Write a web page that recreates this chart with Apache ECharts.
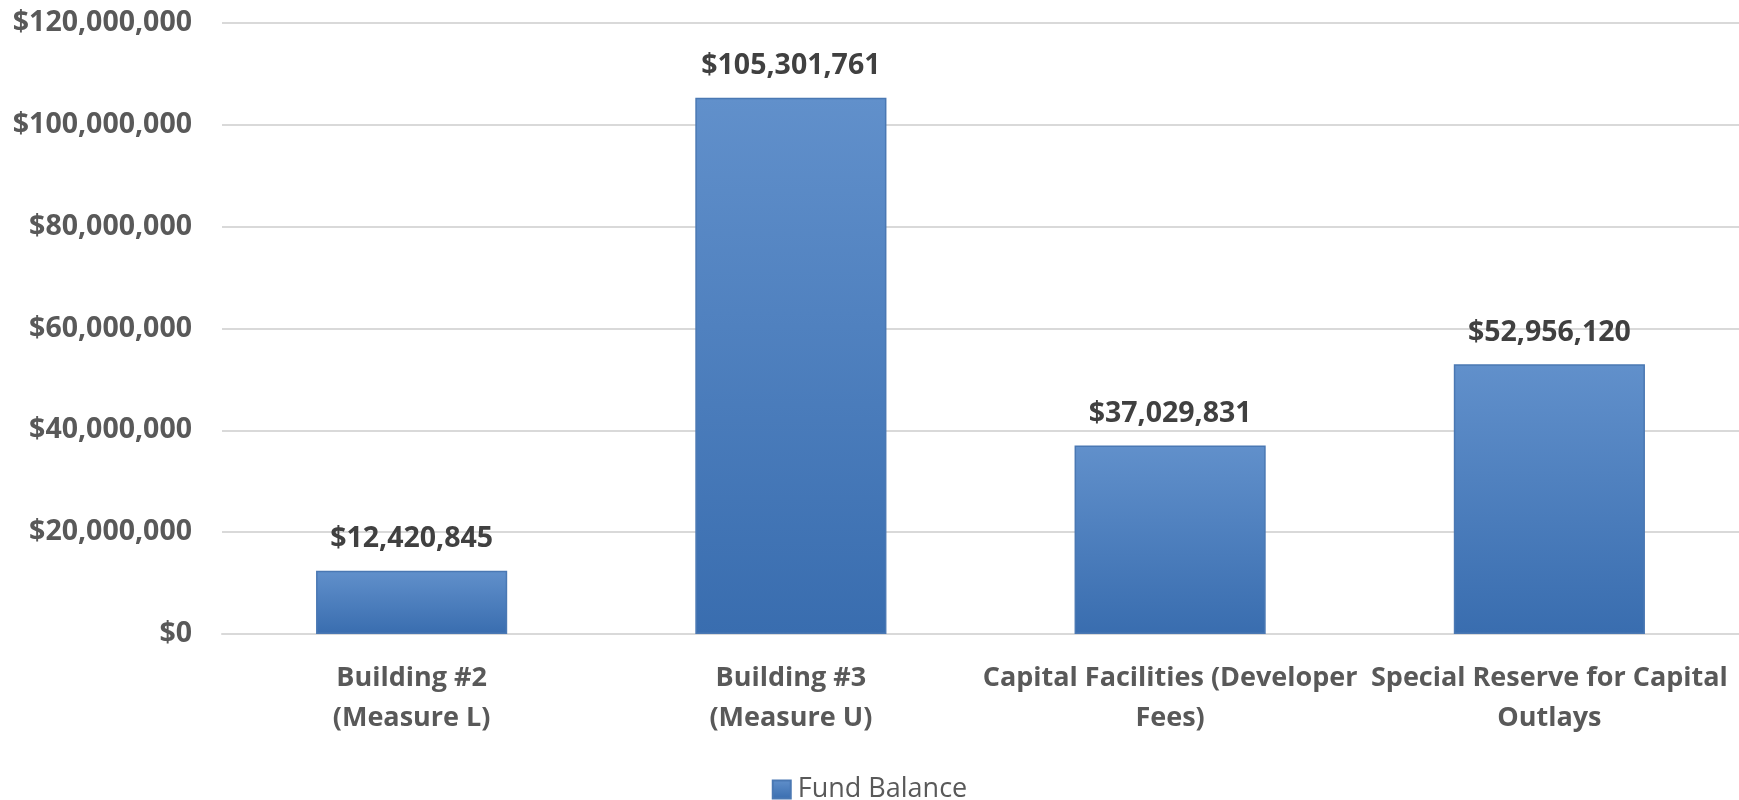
<!DOCTYPE html>
<html>
<head>
<meta charset="utf-8">
<script src="https://cdn.jsdelivr.net/npm/echarts@6/dist/echarts.min.js"></script>
<style>
html,body{margin:0;padding:0;background:#fff;}
#chart{width:1739px;height:800px;}
</style>
</head>
<body>
<div id="chart"></div>
<script>
const categories = [
  "Building #2\n(Measure L)",
  "Building #3\n(Measure U)",
  "Capital Facilities (Developer\nFees)",
  "Special Reserve for Capital\nOutlays"
];
const seriesName = "Fund Balance";
const fundBalance = [12420845, 105301761, 37029831, 52956120];
const yTicks = { min: 0, max: 120000000, interval: 20000000 };

function money(v) {
  return "$" + Math.round(v).toString().replace(/\B(?=(\d{3})+(?!\d))/g, ",");
}

const FONT = "'Open Sans', sans-serif";
const chart = echarts.init(document.getElementById('chart'));
const barColor = new echarts.graphic.LinearGradient(0, 0, 0, 1, [
  { offset: 0, color: '#6190cb' },
  { offset: 1, color: '#396daf' }
]);
chart.setOption({
  animation: false,
  backgroundColor: '#ffffff',
  grid: { left: 222, right: 0, top: 23, bottom: 166 },
  legend: {
    top: 771,
    left: 'center',
    itemWidth: 18,
    itemHeight: 18,
    itemGap: 10,
    icon: 'rect',
    textStyle: { fontFamily: FONT, fontSize: 27, color: '#595959', padding: [0, 0, 0, 2] },
    data: [seriesName]
  },
  xAxis: {
    type: 'category',
    data: categories,
    axisLine: { show: true, lineStyle: { color: '#d9d9d9', width: 2 } },
    axisTick: { show: false },
    axisLabel: {
      margin: 24,
      interval: 0,
      fontFamily: FONT,
      fontWeight: 'bold',
      fontSize: 27,
      lineHeight: 40,
      color: '#595959'
    }
  },
  yAxis: {
    type: 'value',
    min: yTicks.min,
    max: yTicks.max,
    interval: yTicks.interval,
    axisLine: { show: false },
    axisTick: { show: false },
    splitLine: { lineStyle: { color: '#d9d9d9', width: 2 } },
    axisLabel: {
      margin: 30,
      fontFamily: FONT,
      fontWeight: 'bold',
      fontSize: 28.5,
      color: '#595959',
      formatter: money
    }
  },
  series: [{
    name: seriesName,
    type: 'bar',
    data: fundBalance,
    barWidth: '50.4%',
    itemStyle: {
      color: barColor,
      borderColor: '#4a78b3',
      borderWidth: 1.5
    },
    label: {
      show: true,
      position: 'top',
      distance: 17,
      fontFamily: FONT,
      fontWeight: 'bold',
      fontSize: 28.5,
      color: '#404040',
      formatter: p => money(p.value)
    }
  }]
});
</script>
</body>
</html>
